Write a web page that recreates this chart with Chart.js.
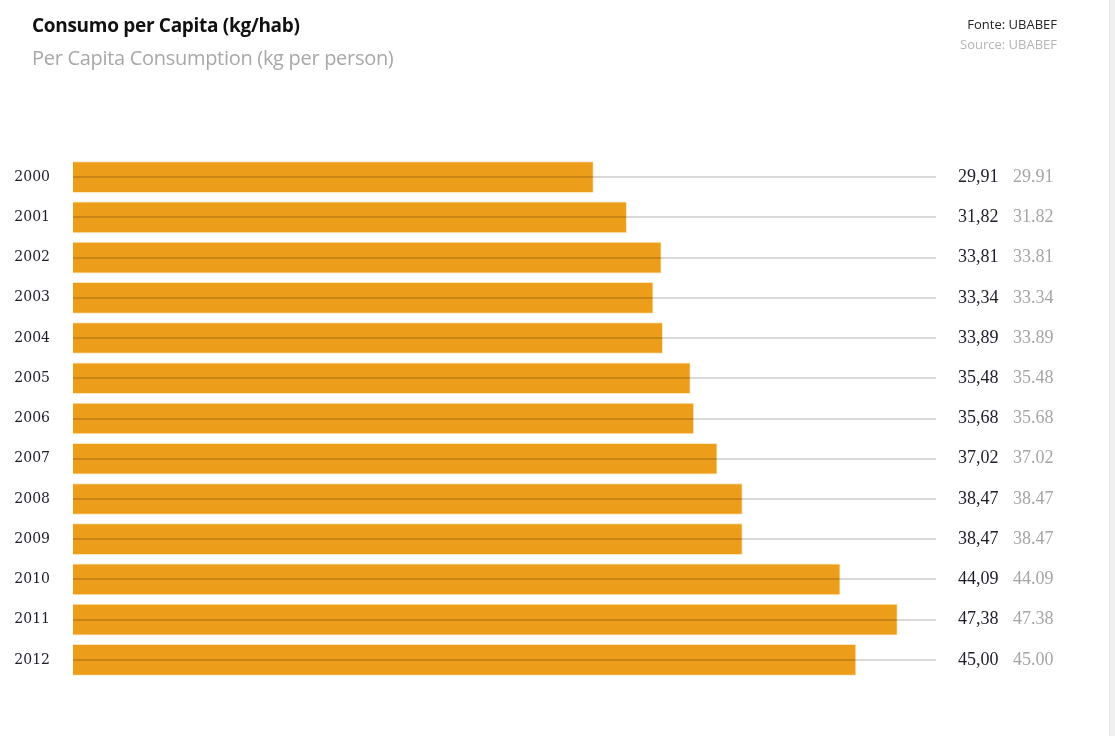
<!DOCTYPE html>
<html>
<head>
<meta charset="utf-8">
<script src="https://cdn.jsdelivr.net/npm/chart.js@4"></script>
<style>
  body { margin: 0; background: #fff; }
  #wrap { position: relative; width: 1115px; height: 736px; overflow: hidden; }
  #c { position: absolute; left: 0; top: 0; }
  .t1 { position: absolute; left: 32px; top: 12px; font: bold 19px "Open Sans", sans-serif; color: #111; letter-spacing: -0.3px; }
  .t2 { position: absolute; left: 32px; top: 44px; font: 20px "Open Sans", sans-serif; color: #a8a8a8; letter-spacing: -0.3px; }
  .s1 { position: absolute; right: 58px; top: 15px; font: 13px "Open Sans", sans-serif; color: #222; }
  .s2 { position: absolute; right: 58px; top: 35px; font: 13px "Open Sans", sans-serif; color: #b5b5b5; }
  .edge { position: absolute; left: 1109px; top: 0; width: 6px; height: 736px; background: #f0f0f0; border-left: 1px solid #e2e2e2; }
</style>
</head>
<body>
<div id="wrap">
  <canvas id="c" width="1115" height="736"></canvas>
  <div class="t1">Consumo per Capita (kg/hab)</div>
  <div class="t2">Per Capita Consumption (kg per person)</div>
  <div class="s1">Fonte: UBABEF</div>
  <div class="s2">Source: UBABEF</div>
  <div class="edge"></div>
</div>
<script>
// dados
var anos = ['2000', '2001', '2002', '2003', '2004', '2005', '2006',
            '2007', '2008', '2009', '2010', '2011', '2012'];
var consumo = [29.91, 31.82, 33.81, 33.34, 33.89, 35.48, 35.68,
               37.02, 38.47, 38.47, 44.09, 47.38, 45.00];

// rótulos à direita: pt (vírgula) e en (ponto)
var valueLabels = {
    id: 'valueLabels',
    afterDraw: function(chart) {
        var ctx = chart.ctx;
        var y = chart.scales.y;
        ctx.save();
        ctx.textBaseline = 'middle';
        ctx.textAlign = 'left';
        consumo.forEach(function(v, i) {
            var py = y.getPixelForValue(i);
            ctx.font = '18px "Liberation Serif", serif';
            ctx.fillStyle = '#1c1c2a';
            ctx.fillText(v.toFixed(2).replace('.', ','), 958, py);
            ctx.fillStyle = '#a5a5a5';
            ctx.fillText(v.toFixed(2), 1013, py);
        });
        ctx.restore();
    }
};

var ctx = document.getElementById('c').getContext('2d');
var chart = new Chart(ctx, {
    type: 'bar',
    data: {
        labels: anos,
        datasets: [{
            data: consumo,
            backgroundColor: '#ec9d1a',
            borderColor: 'rgba(255, 225, 170, 0.8)',
            borderWidth: 1,
            barThickness: 31
        }]
    },
    options: {
        indexAxis: 'y',
        responsive: false,
        animation: false,
        layout: { padding: { left: 0, right: 179, top: 157, bottom: 56 } },
        plugins: {
            legend: { display: false },
            tooltip: { enabled: false }
        },
        scales: {
            x: {
                display: false,
                min: 0,
                max: 49.6
            },
            y: {
                afterFit: function(scale) { scale.width = 73; },
                border: { display: false },
                grid: {
                    z: 1,
                    offset: false,
                    drawTicks: false,
                    color: 'rgba(0, 0, 0, 0.15)',
                    lineWidth: 2
                },
                ticks: {
                    crossAlign: 'center',
                    padding: 23,
                    color: '#1c1c2a',
                    font: { family: '"DejaVu Serif", serif', size: 14 }
                }
            }
        }
    },
    plugins: [valueLabels]
});
</script>
</body>
</html>
